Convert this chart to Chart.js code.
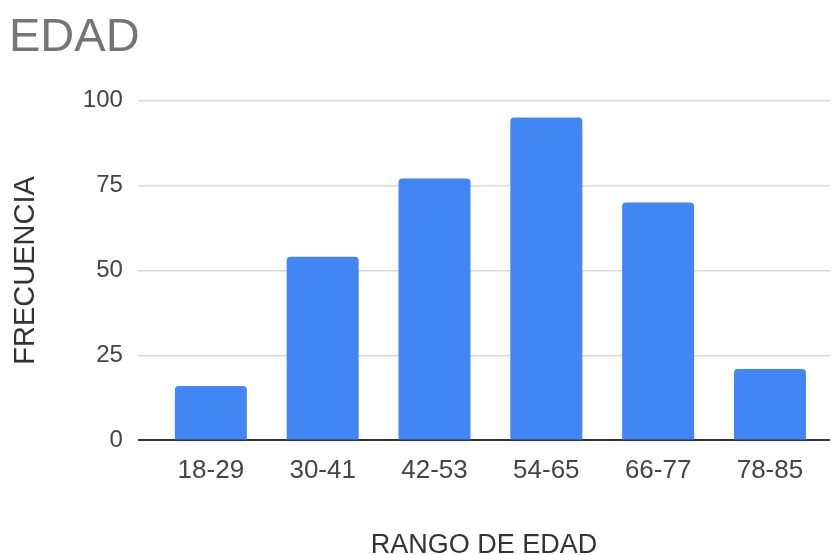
<!DOCTYPE html>
<html>
<head>
<meta charset="utf-8">
<script src="https://cdn.jsdelivr.net/npm/chart.js@4.4.1/dist/chart.umd.min.js"></script>
<style>
  html,body{margin:0;padding:0;background:#fff}
  #wrap{width:831px;height:555px;position:relative}
</style>
</head>
<body>
<div id="wrap"><canvas id="edadChart"></canvas></div>
<script>
// Age distribution data
const labels = ['18-29','30-41','42-53','54-65','66-77','78-85'];
const freq   = [16, 54, 77, 95, 70, 21];
const yTicks = [0, 25, 50, 75, 100];

const FONT = '"Liberation Sans", Arial, sans-serif';

new Chart(document.getElementById('edadChart'), {
  type: 'bar',
  data: {
    datasets: [{
      label: 'FRECUENCIA',
      data: freq.map((v, i) => ({ x: i, y: v })),
      backgroundColor: '#4285f4',
      borderRadius: { topLeft: 4, topRight: 4, bottomLeft: 0, bottomRight: 0 },
      borderSkipped: 'start',
      categoryPercentage: 1,
      barPercentage: 0.644
    }]
  },
  options: {
    responsive: true, maintainAspectRatio: false, animation: false,
    layout: { padding: { left: 9, right: 1, top: 0, bottom: 0 } },
    plugins: {
      legend: { display: false },
      tooltip: { enabled: false },
      title: {
        display: true, text: 'EDAD', align: 'start', color: '#757575',
        font: { family: FONT, size: 47, weight: 'normal' },
        padding: { top: 10, bottom: 34 }
      }
    },
    scales: {
      x: {
        type: 'linear', min: -0.653, max: 5.537, offset: false,
        afterBuildTicks: s => { s.ticks = labels.map((_, i) => ({ value: i })); },
        ticks: { callback: v => labels[v], color: '#444', padding: 7, autoSkip: false, maxRotation: 0,
                 font: { family: FONT, size: 26 } },
        grid: { display: false },
        border: { display: false },
        title: { display: true, text: 'RANGO DE EDAD', color: '#333',
                 font: { family: FONT, size: 27 }, padding: { top: 36, bottom: -7 } }
      },
      y: {
        min: 0, max: 100,
        afterBuildTicks: s => { s.ticks = yTicks.map(v => ({ value: v })); },
        ticks: { color: '#444', padding: 15, font: { family: FONT, size: 24 } },
        grid: {
          drawTicks: false, lineWidth: ctx => ctx.tick && ctx.tick.value === 0 ? 2 : 1.5,
          color: ctx => ctx.tick && ctx.tick.value === 0 ? '#333' : '#dadada'
        },
        border: { display: false },
        title: { display: true, text: 'FRECUENCIA', color: '#333',
                 font: { family: FONT, size: 29 }, padding: { top: 0, bottom: 24 } }
      }
    }
  }
});
</script>
</body>
</html>
